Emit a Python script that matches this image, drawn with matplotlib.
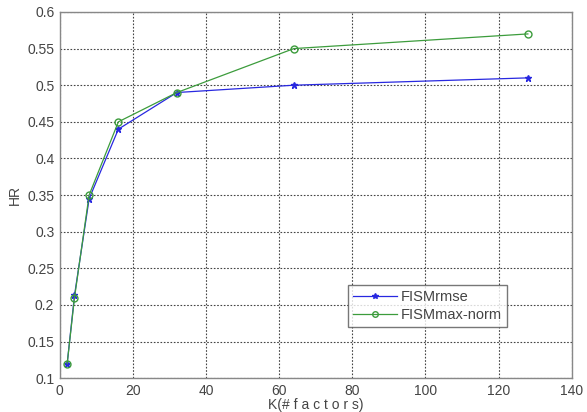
import matplotlib
matplotlib.use('Agg')
import matplotlib.pyplot as plt

plt.rcParams['font.family'] = ['Liberation Sans', 'DejaVu Sans']

# K (# factors)
k = [2, 4, 8, 16, 32, 64, 128]
hr_rmse = [0.12, 0.213, 0.345, 0.44, 0.49, 0.50, 0.51]
hr_maxnorm = [0.12, 0.21, 0.35, 0.45, 0.49, 0.55, 0.57]

fig = plt.figure(figsize=(5.87, 4.12), dpi=100)
ax = fig.add_axes([0.102, 0.082, 0.872, 0.889])

ax.plot(k, hr_rmse, color='#2828e0', marker='*', markersize=5, lw=0.9, label='FISMrmse')
ax.plot(k, hr_maxnorm, color='#3c9c3c', marker='o', markersize=5, mfc='none', lw=0.9,
        label='FISMmax-norm')

ax.set_xlim(0, 140)
ax.set_ylim(0.1, 0.6)
ax.set_xticks(range(0, 141, 20))
ax.set_yticks([0.1, 0.15, 0.2, 0.25, 0.3, 0.35, 0.4, 0.45, 0.5, 0.55, 0.6])
ax.set_yticklabels(['0.1', '0.15', '0.2', '0.25', '0.3', '0.35', '0.4', '0.45', '0.5', '0.55', '0.6'])
ax.grid(True, linestyle=(0, (1.5, 1.5)), color='#444444', lw=0.8)
ax.tick_params(direction='in', length=0, labelsize=10, colors='#444444', pad=4)
for s in ax.spines.values():
    s.set_color('#888888')
    s.set_linewidth(1.0)

ax.set_xlabel('K(# f a c t o r s)', fontsize=10, color='#444444', labelpad=0)
ax.set_ylabel('HR', fontsize=10, color='#444444', labelpad=4)

leg = ax.legend(loc='lower left', bbox_to_anchor=(0.5625, 0.139), borderaxespad=0,
                fontsize=10.5, frameon=True, fancybox=False, edgecolor='#555555',
                borderpad=0.35, handlelength=3.0, handletextpad=0.3, labelspacing=0.3,
                markerscale=0.8)
leg.get_frame().set_linewidth(1.0)
for t in leg.get_texts():
    t.set_color('#444444')

fig.savefig('out.png', dpi=100)
